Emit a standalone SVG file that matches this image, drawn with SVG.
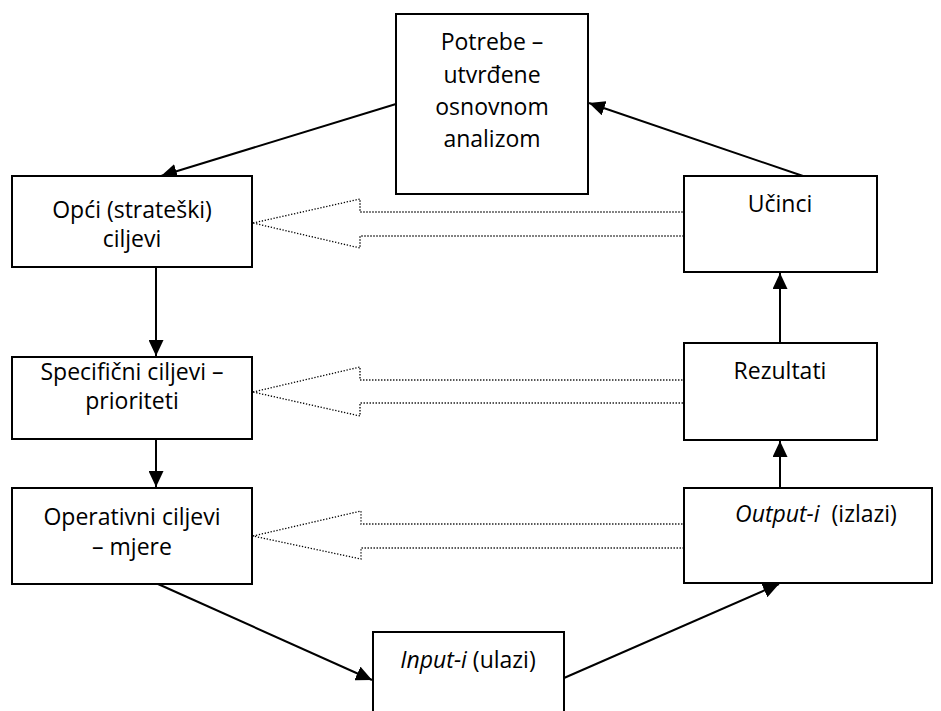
<svg xmlns="http://www.w3.org/2000/svg" width="941" height="711" viewBox="0 0 941 711">
<style>
.box{fill:#fff;stroke:#000;stroke-width:2}
.t{font-family:"Open Sans","Liberation Sans",sans-serif;font-size:23px;fill:#000;text-anchor:middle}
.c{stroke:#000;stroke-width:2;fill:none}
.h{fill:#fff;stroke:#000;stroke-width:1.3;stroke-dasharray:1.3 1.7}
</style>
<defs>
<marker id="ar" markerUnits="userSpaceOnUse" markerWidth="17" markerHeight="15" refX="16" refY="7.5" orient="auto" viewBox="0 0 17 15">
<path d="M0,0 L16,7.5 L0,15 z" fill="#000"/>
</marker>
</defs>
<g id="connectors">
<line class="c" x1="396" y1="104" x2="161" y2="176" marker-end="url(#ar)"/>
<line class="c" x1="803" y1="176" x2="589" y2="103" marker-end="url(#ar)"/>
<line class="c" x1="156" y1="268" x2="156" y2="356" marker-end="url(#ar)"/>
<line class="c" x1="156" y1="440" x2="156" y2="487" marker-end="url(#ar)"/>
<line class="c" x1="158" y1="584" x2="372" y2="680" marker-end="url(#ar)"/>
<line class="c" x1="564" y1="678" x2="779" y2="584" marker-end="url(#ar)"/>
<line class="c" x1="780" y1="488" x2="780" y2="441" marker-end="url(#ar)"/>
<line class="c" x1="780" y1="343" x2="780" y2="273" marker-end="url(#ar)"/>
<polygon class="h" points="253,223 360,199 360,212 684,212 684,236 360,236 360,248"/>
<polygon class="h" points="253,392 360,367 360,380 684,380 684,403 360,403 360,416"/>
<polygon class="h" points="253,536 361,511 361,524 684,524 684,548 361,548 361,559"/>
</g>
<g id="potrebe">
<rect class="box" x="396" y="14" width="192" height="180"/>
<text class="t" x="492" y="50">Potrebe –</text>
<text class="t" x="492" y="83">utvrđene</text>
<text class="t" x="492" y="115">osnovnom</text>
<text class="t" x="492" y="147">analizom</text>
</g>
<g id="opci">
<rect class="box" x="12" y="176" width="240" height="91"/>
<text class="t" x="132" y="218">Opći (strateški)</text>
<text class="t" x="132" y="247">ciljevi</text>
</g>
<g id="specificni">
<rect class="box" x="12" y="357" width="240" height="82"/>
<text class="t" x="132" y="380">Specifični ciljevi –</text>
<text class="t" x="132" y="409">prioriteti</text>
</g>
<g id="operativni">
<rect class="box" x="12" y="488" width="240" height="96"/>
<text class="t" x="132" y="525">Operativni ciljevi</text>
<text class="t" x="132" y="555">– mjere</text>
</g>
<g id="input">
<rect class="box" x="373" y="632" width="191" height="90"/>
<text class="t" x="468" y="668"><tspan font-style="italic">Input-i</tspan> (ulazi)</text>
</g>
<g id="output">
<rect class="box" x="684" y="488" width="248" height="95"/>
<text class="t" x="816" y="522" xml:space="preserve"><tspan font-style="italic">Output-i</tspan>  (izlazi)</text>
</g>
<g id="rezultati">
<rect class="box" x="684" y="343" width="193" height="97"/>
<text class="t" x="780" y="379">Rezultati</text>
</g>
<g id="ucinci">
<rect class="box" x="684" y="176" width="193" height="96"/>
<text class="t" x="780" y="212">Učinci</text>
</g>
</svg>
